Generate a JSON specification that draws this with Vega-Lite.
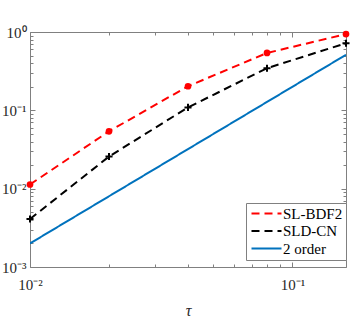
{
  "$schema": "https://vega.github.io/schema/vega-lite/v6.json",
  "width": 316,
  "height": 235,
  "autosize": "none",
  "padding": {"left": 30, "top": 32, "right": 13, "bottom": 58},
  "background": "white",
  "data": {"values": [
    {"tau": 0.01, "err": 0.0113, "method": "SL-BDF2"},
    {"tau": 0.02, "err": 0.054, "method": "SL-BDF2"},
    {"tau": 0.04, "err": 0.203, "method": "SL-BDF2"},
    {"tau": 0.08, "err": 0.54, "method": "SL-BDF2"},
    {"tau": 0.16, "err": 0.94, "method": "SL-BDF2"},
    {"tau": 0.01, "err": 0.0041, "method": "SLD-CN"},
    {"tau": 0.02, "err": 0.0257, "method": "SLD-CN"},
    {"tau": 0.04, "err": 0.109, "method": "SLD-CN"},
    {"tau": 0.08, "err": 0.345, "method": "SLD-CN"},
    {"tau": 0.16, "err": 0.72, "method": "SLD-CN"},
    {"tau": 0.01, "err": 0.002, "method": "2 order"},
    {"tau": 0.02, "err": 0.008, "method": "2 order"},
    {"tau": 0.04, "err": 0.032, "method": "2 order"},
    {"tau": 0.08, "err": 0.128, "method": "2 order"},
    {"tau": 0.16, "err": 0.512, "method": "2 order"}
  ]},
  "config": {
    "font": "Liberation Serif",
    "view": {"stroke": "#808080", "strokeWidth": 1},
    "axis": {
      "grid": false,
      "domain": false,
      "tickColor": "#808080",
      "tickWidth": 1,
      "labelColor": "#262626",
      "labelFont": "Liberation Serif",
      "labelFontSize": 15,
      "titleFont": "Liberation Serif",
      "titleColor": "#262626"
    }
  },
  "layer": [
    {
      "mark": {"type": "line", "strokeWidth": 2, "clip": true},
      "encoding": {
        "x": {
          "field": "tau", "type": "quantitative",
          "scale": {"type": "log", "domain": [0.01, 0.16], "nice": false},
          "axis": {
            "orient": "bottom",
            "values": [0.01, 0.02, 0.03, 0.04, 0.05, 0.06, 0.07, 0.08, 0.09, 0.1],
            "labelExpr": "datum.value == 0.01 ? '10⁻²' : datum.value == 0.1 ? '10⁻¹' : ''",
            "tickSize": {"condition": {"test": "datum.value == 0.01 || datum.value == 0.1", "value": -5}, "value": -3},
            "labelPadding": 15,
            "labelFlush": false,
            "labelOverlap": false,
            "title": "τ",
            "titleFontStyle": "italic",
            "titleFontWeight": "normal",
            "titleFontSize": 16,
            "titlePadding": 8
          }
        },
        "y": {
          "field": "err", "type": "quantitative",
          "scale": {"type": "log", "domain": [0.001, 1], "nice": false},
          "axis": {
            "orient": "left",
            "values": [0.001, 0.002, 0.003, 0.004, 0.005, 0.006, 0.007, 0.008, 0.009, 0.01, 0.02, 0.03, 0.04, 0.05, 0.06, 0.07, 0.08, 0.09, 0.1, 0.2, 0.3, 0.4, 0.5, 0.6, 0.7, 0.8, 0.9, 1],
            "labelExpr": "datum.value == 1 ? '10⁰' : datum.value == 0.1 ? '10⁻¹' : datum.value == 0.01 ? '10⁻²' : datum.value == 0.001 ? '10⁻³' : ''",
            "tickSize": {"condition": {"test": "datum.value == 1 || datum.value == 0.1 || datum.value == 0.01 || datum.value == 0.001", "value": -5}, "value": -3},
            "labelPadding": 9,
            "labelFlush": false,
            "labelOverlap": false,
            "title": null
          }
        },
        "color": {
          "field": "method", "type": "nominal",
          "scale": {"domain": ["SL-BDF2", "SLD-CN", "2 order"], "range": ["#FF0000", "#000000", "#0072BD"]},
          "legend": {
            "title": null,
            "orient": "none",
            "legendX": 216,
            "legendY": 171,
            "fillColor": "white",
            "strokeColor": "#808080",
            "padding": 3,
            "labelFontSize": 15,
            "labelFont": "Liberation Serif",
            "labelColor": "#000000",
            "symbolType": "M-3,0L3,0",
            "symbolSize": 100,
            "symbolOffset": 10,
            "symbolStrokeWidth": 2,
            "rowPadding": 1.5,
            "labelOffset": 9
          }
        },
        "strokeDash": {
          "field": "method", "type": "nominal",
          "scale": {"domain": ["SL-BDF2", "SLD-CN", "2 order"], "range": [[8, 5], [8, 5], [1, 0]]},
          "legend": {"title": null}
        }
      }
    },
    {
      "transform": [{"filter": "datum.method == 'SL-BDF2'"}],
      "mark": {"type": "point", "filled": true, "color": "#FF0000", "opacity": 1, "size": 45},
      "encoding": {
        "x": {
          "field": "tau", "type": "quantitative",
          "axis": {
            "orient": "top",
            "values": [0.01, 0.02, 0.03, 0.04, 0.05, 0.06, 0.07, 0.08, 0.09, 0.1],
            "labels": false,
            "tickSize": {"condition": {"test": "datum.value == 0.01 || datum.value == 0.1", "value": -5}, "value": -3},
            "title": null
          }
        },
        "y": {
          "field": "err", "type": "quantitative",
          "axis": {
            "orient": "right",
            "values": [0.001, 0.002, 0.003, 0.004, 0.005, 0.006, 0.007, 0.008, 0.009, 0.01, 0.02, 0.03, 0.04, 0.05, 0.06, 0.07, 0.08, 0.09, 0.1, 0.2, 0.3, 0.4, 0.5, 0.6, 0.7, 0.8, 0.9, 1],
            "labels": false,
            "tickSize": {"condition": {"test": "datum.value == 1 || datum.value == 0.1 || datum.value == 0.01 || datum.value == 0.001", "value": -5}, "value": -3},
            "title": null
          }
        }
      }
    },
    {
      "transform": [{"filter": "datum.method == 'SLD-CN'"}],
      "mark": {"type": "point", "shape": "M-1,0L1,0M0,-1L0,1", "filled": false, "color": "#000000", "opacity": 1, "strokeWidth": 2, "size": 50},
      "encoding": {
        "x": {"field": "tau", "type": "quantitative", "axis": null},
        "y": {"field": "err", "type": "quantitative", "axis": null}
      }
    }
  ],
  "resolve": {"axis": {"x": "independent", "y": "independent"}}
}
